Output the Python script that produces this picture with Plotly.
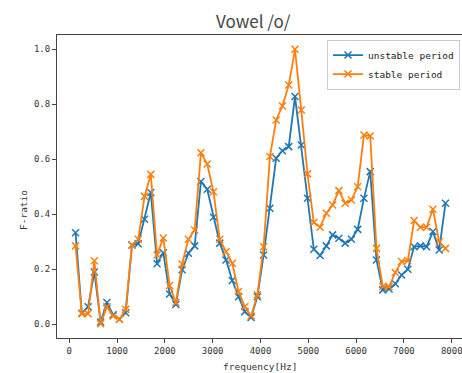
import plotly.graph_objects as go

step = 8000 / 61
freqs = [round(k * step, 1) for k in range(1, 61)]

unstable = [0.333, 0.040, 0.064, 0.190, 0.008, 0.079, 0.034, 0.018, 0.042, 0.288,
            0.293, 0.382, 0.479, 0.220, 0.260, 0.110, 0.072, 0.198, 0.258, 0.285,
            0.519, 0.491, 0.389, 0.295, 0.234, 0.159, 0.100, 0.046, 0.025, 0.100,
            0.252, 0.422, 0.604, 0.631, 0.646, 0.828, 0.652, 0.458, 0.273, 0.250,
            0.285, 0.325, 0.313, 0.295, 0.309, 0.345, 0.458, 0.555, 0.234, 0.125,
            0.128, 0.147, 0.179, 0.200, 0.282, 0.285, 0.282, 0.337, 0.270, 0.440]

stable = [0.285, 0.038, 0.038, 0.231, 0.002, 0.064, 0.030, 0.018, 0.054, 0.288,
          0.309, 0.465, 0.545, 0.252, 0.314, 0.141, 0.079, 0.219, 0.309, 0.343,
          0.624, 0.583, 0.482, 0.309, 0.264, 0.222, 0.119, 0.064, 0.030, 0.107,
          0.282, 0.610, 0.743, 0.794, 0.870, 1.000, 0.779, 0.547, 0.370, 0.353,
          0.404, 0.434, 0.486, 0.440, 0.452, 0.500, 0.688, 0.685, 0.276, 0.137,
          0.137, 0.188, 0.228, 0.231, 0.377, 0.353, 0.353, 0.418, 0.300, 0.276]

series_names = ["unstable period", "stable period"]
colors = ["#1f77b4", "#ff7f0e"]
xticks = [0, 1000, 2000, 3000, 4000, 5000, 6000, 7000, 8000]
yticks = [0.0, 0.2, 0.4, 0.6, 0.8, 1.0]

mono = "DejaVu Sans Mono"

fig = go.Figure()
for name, vals, col in zip(series_names, [unstable, stable], colors):
    fig.add_trace(go.Scatter(
        x=freqs, y=vals, name=name, mode="lines+markers",
        line=dict(color=col, width=1.8),
        marker=dict(symbol="x-thin", size=7, color=col, line=dict(width=1.5, color=col)),
    ))

axis_common = dict(
    showgrid=False, zeroline=False, showline=True, linecolor="#444", linewidth=1,
    mirror=True, ticks="outside", ticklen=4, tickcolor="#444", tickwidth=1,
    tickfont=dict(family=mono, size=9, color="#333"),
    ticklabeloverflow="allow",
)

fig.update_layout(
    width=462, height=373,
    margin=dict(l=57, r=0, t=35, b=35),
    paper_bgcolor="white", plot_bgcolor="white",
    showlegend=True,
    legend=dict(
        x=0.995, y=0.985, xanchor="right", yanchor="top",
        bordercolor="#cccccc", borderwidth=1, bgcolor="rgba(255,255,255,0.8)",
        font=dict(family=mono, size=9.5, color="#222"),
        itemwidth=30, tracegroupgap=0,
    ),
    xaxis=dict(range=[-257, 8215], tickvals=xticks, ticktext=[str(t) for t in xticks], **axis_common),
    yaxis=dict(range=[-0.05, 1.052], tickvals=yticks, ticktext=[f"{t:.1f}" for t in yticks], **axis_common),
    annotations=[
        dict(text="Vowel /o/", xref="paper", yref="paper", x=0.486, y=1, yshift=15,
             xanchor="center", yanchor="middle", showarrow=False,
             font=dict(family="Noto Sans CJK JP", size=17, color="#444")),
        dict(text="frequency[Hz]", xref="paper", yref="paper", x=0.502, y=0, yshift=-28,
             xanchor="center", yanchor="middle", showarrow=False,
             font=dict(family=mono, size=9.5, color="#333")),
        dict(text="F-ratio", xref="paper", yref="paper", x=0, xshift=-34, y=0.4224,
             xanchor="center", yanchor="middle", showarrow=False, textangle=-90,
             font=dict(family=mono, size=9.5, color="#333")),
    ],
)

fig.write_html("out.html")
